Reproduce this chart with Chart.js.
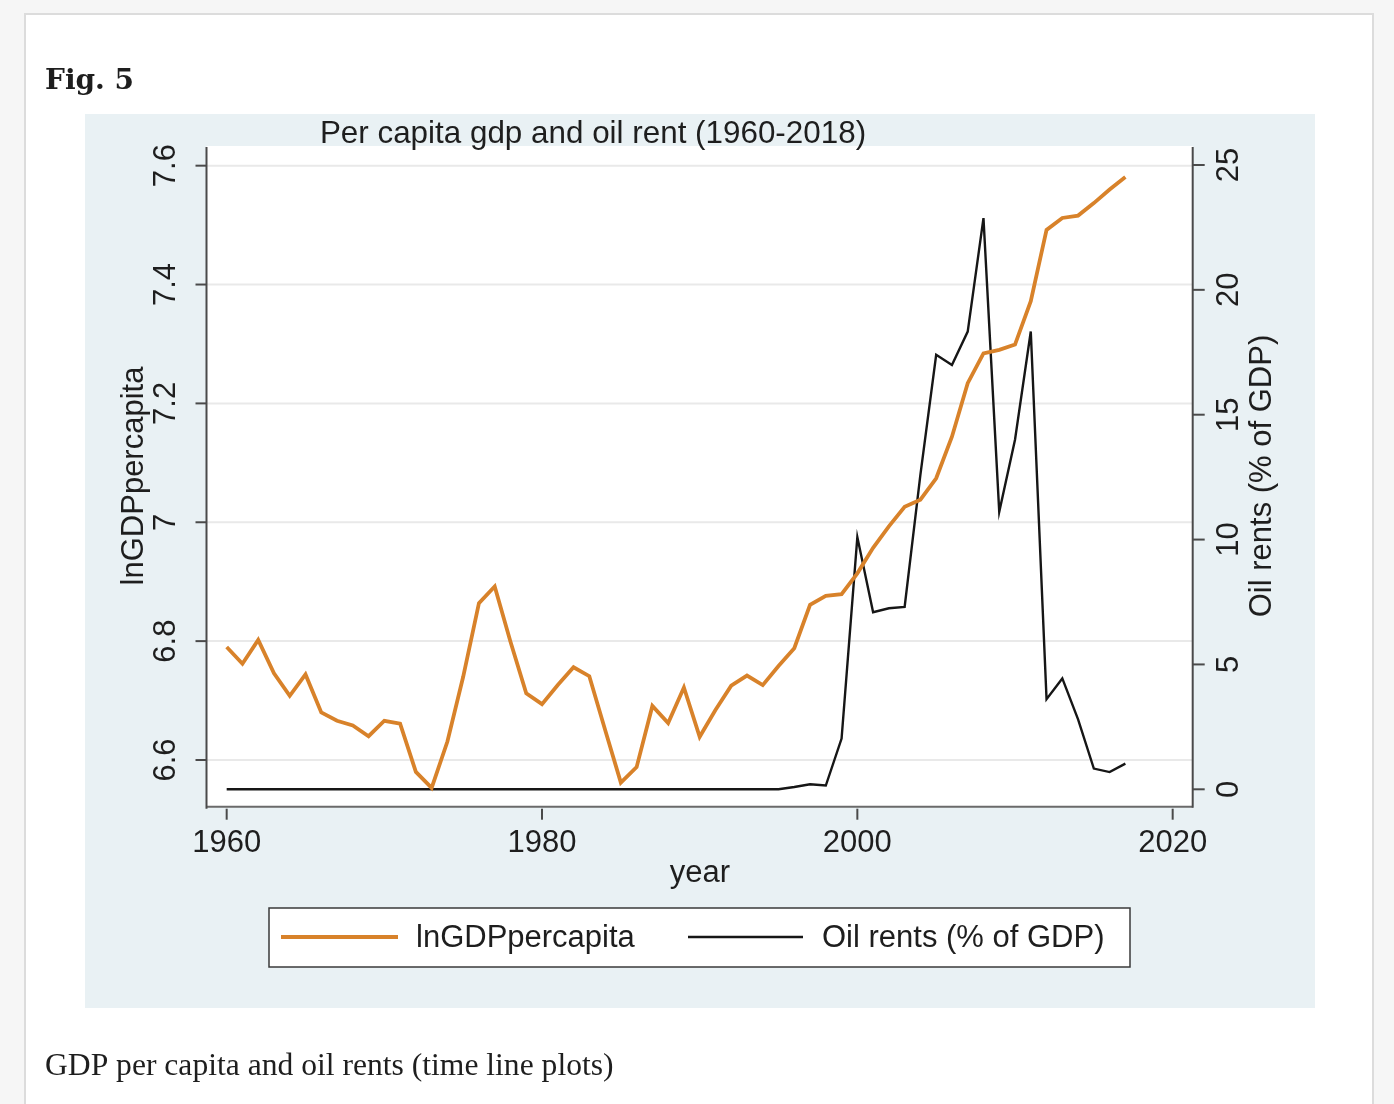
<!DOCTYPE html>
<html><head><meta charset="utf-8">
<script src="https://cdn.jsdelivr.net/npm/chart.js@4.4.0/dist/chart.umd.min.js"></script>
<style>html,body{margin:0;padding:0;background:#f6f6f6;overflow:hidden;} canvas{display:block;}</style>
</head><body>
<canvas id="c" width="1394" height="1104" style="width:1394px;height:1104px"></canvas>
<script>
// ---- data ----
const years = [1960,1961,1962,1963,1964,1965,1966,1967,1968,1969,
  1970,1971,1972,1973,1974,1975,1976,1977,1978,1979,
  1980,1981,1982,1983,1984,1985,1986,1987,1988,1989,
  1990,1991,1992,1993,1994,1995,1996,1997,1998,1999,
  2000,2001,2002,2003,2004,2005,2006,2007,2008,2009,
  2010,2011,2012,2013,2014,2015,2016,2017];
const lnGDPpercapita = [6.790,6.762,6.802,6.746,6.708,6.744,6.680,6.666,6.658,6.640,
  6.666,6.661,6.580,6.553,6.631,6.740,6.864,6.892,6.799,6.712,
  6.694,6.726,6.756,6.741,6.651,6.562,6.588,6.691,6.662,6.722,
  6.639,6.684,6.725,6.742,6.726,6.758,6.788,6.861,6.876,6.879,
  6.914,6.957,6.993,7.026,7.038,7.074,7.144,7.234,7.284,7.290,
  7.299,7.372,7.492,7.512,7.516,7.537,7.560,7.581];
const oilRents = [0,0,0,0,0,0,0,0,0,0,
  0,0,0,0,0,0,0,0,0,0,
  0,0,0,0,0,0,0,0,0,0,
  0,0,0,0,0,0,0.09,0.20,0.15,2.03,
  10.1,7.09,7.25,7.30,12.6,17.4,16.99,18.33,22.87,11.11,
  14.0,18.33,3.61,4.44,2.8,0.83,0.69,1.03];
const seriesNames = ['lnGDPpercapita','Oil rents (% of GDP)'];
const xTicks = [1960,1980,2000,2020];
const leftTicks = [6.6,6.8,7,7.2,7.4,7.6];
const leftTickLabels = ['6.6','6.8','7','7.2','7.4','7.6'];
const rightTicks = [0,5,10,15,20,25];
const rightTickLabels = ['0','5','10','15','20','25'];
const chartTitle = 'Per capita gdp and oil rent (1960-2018)';
const xTitle = 'year';
const leftTitle = 'lnGDPpercapita';
const rightTitle = 'Oil rents (% of GDP)';
const figLabel = 'Fig. 5';
const caption = 'GDP per capita and oil rents (time line plots)';

// ---- styling ----
const ORANGE = '#d8822a';
const BLACK = '#161616';
const TEXT = '#1e1e1e';
const SANS = '"Liberation Sans", Arial, sans-serif';

function rotText(ctx, txt, x, y){
  ctx.save(); ctx.translate(x,y); ctx.rotate(-Math.PI/2);
  ctx.textAlign='center'; ctx.textBaseline='middle'; ctx.fillText(txt,0,0); ctx.restore();
}

const stata = {
  id:'stata',
  beforeDraw(chart){
    const {ctx, chartArea:a} = chart;
    const W = chart.width, H = chart.height;
    ctx.save();
    ctx.fillStyle='#f6f6f6'; ctx.fillRect(0,0,W,H);
    ctx.fillStyle='#ffffff'; ctx.fillRect(25,14,1348,H);
    ctx.strokeStyle='#dcdcdc'; ctx.lineWidth=2; ctx.strokeRect(25,14,1348,H+20);
    ctx.fillStyle=TEXT; ctx.textAlign='left'; ctx.textBaseline='alphabetic';
    ctx.font='bold 28px "DejaVu Serif", serif';
    ctx.fillText(figLabel,45,89);
    ctx.font='31.6px "Liberation Serif", serif';
    ctx.fillText(caption,45,1075);
    // graph region
    ctx.fillStyle='#e9f1f4'; ctx.fillRect(85,114,1230,894);
    ctx.fillStyle='#ffffff'; ctx.fillRect(a.left,a.top,a.right-a.left,a.bottom-a.top);
    const y = chart.scales.y;
    ctx.strokeStyle='#e9e9e9'; ctx.lineWidth=2;
    leftTicks.forEach(v=>{const p=y.getPixelForValue(v); ctx.beginPath(); ctx.moveTo(a.left,p); ctx.lineTo(a.right,p); ctx.stroke();});
    ctx.restore();
  },
  afterDatasetsDraw(chart){
    const {ctx, chartArea:a} = chart;
    const sx = chart.scales.x, sy = chart.scales.y, sy1 = chart.scales.y1;
    ctx.save();
    // axis lines
    ctx.lineWidth=2;
    ctx.strokeStyle='#6a6a6a';
    ctx.beginPath(); ctx.moveTo(a.left,a.bottom); ctx.lineTo(a.right,a.bottom); ctx.stroke();
    ctx.strokeStyle='#4a4a4a';
    ctx.beginPath(); ctx.moveTo(a.left,a.top+1); ctx.lineTo(a.left,a.bottom+2); ctx.stroke();
    ctx.beginPath(); ctx.moveTo(a.right,a.top+1); ctx.lineTo(a.right,a.bottom+1); ctx.stroke();
    // ticks
    ctx.fillStyle=TEXT; ctx.font='31px '+SANS;
    leftTicks.forEach((v,i)=>{const p=sy.getPixelForValue(v);
      ctx.beginPath(); ctx.moveTo(a.left-11,p); ctx.lineTo(a.left,p); ctx.stroke();
      rotText(ctx,leftTickLabels[i],a.left-40,p);});
    rightTicks.forEach((v,i)=>{const p=sy1.getPixelForValue(v);
      ctx.beginPath(); ctx.moveTo(a.right,p); ctx.lineTo(a.right+12,p); ctx.stroke();
      rotText(ctx,rightTickLabels[i],a.right+37,p);});
    ctx.textAlign='center'; ctx.textBaseline='middle';
    xTicks.forEach(v=>{const p=sx.getPixelForValue(v);
      ctx.beginPath(); ctx.moveTo(p,a.bottom+2); ctx.lineTo(p,a.bottom+13); ctx.stroke();
      ctx.fillText(String(v),p,a.bottom+37);});
    // titles
    ctx.font='31.4px '+SANS;
    ctx.fillText(chartTitle,593,134);
    ctx.font='31px '+SANS;
    ctx.fillText(xTitle,700,873);
    rotText(ctx,leftTitle,134,476);
    rotText(ctx,rightTitle,1262,476);
    // legend
    ctx.fillStyle='#ffffff'; ctx.fillRect(269,908,861,59);
    ctx.strokeStyle='#3a3a3a'; ctx.lineWidth=1.5; ctx.strokeRect(269,908,861,59);
    const ds = chart.data.datasets;
    const items = [{x1:281,x2:398,tx:416},{x1:688,x2:803,tx:822}];
    items.forEach((it,i)=>{
      ctx.strokeStyle=ds[i].borderColor; ctx.lineWidth=ds[i].borderWidth;
      ctx.beginPath(); ctx.moveTo(it.x1,937); ctx.lineTo(it.x2,937); ctx.stroke();
      ctx.fillStyle=TEXT; ctx.textAlign='left'; ctx.textBaseline='middle';
      ctx.fillText(ds[i].label,it.tx,938);
    });
    ctx.restore();
  }
};

new Chart(document.getElementById('c'), {
  type:'line',
  data:{
    datasets:[
      {label:seriesNames[0], data:years.map((yr,i)=>({x:yr,y:lnGDPpercapita[i]})), yAxisID:'y',
       borderColor:ORANGE, borderWidth:3.8, pointRadius:0, tension:0, fill:false, borderJoinStyle:'miter'},
      {label:seriesNames[1], data:years.map((yr,i)=>({x:yr,y:oilRents[i]})), yAxisID:'y1',
       borderColor:BLACK, borderWidth:2.4, pointRadius:0, tension:0, fill:false, borderJoinStyle:'miter'}
    ]
  },
  options:{
    responsive:false, animation:false, devicePixelRatio:1,
    layout:{padding:{left:206.5, top:146, right:1394-1192.7, bottom:1104-806.7}},
    plugins:{legend:{display:false}, title:{display:false}, tooltip:{enabled:false}},
    scales:{
      x:{type:'linear', min:1958.72, max:2021.27, display:false},
      y:{type:'linear', position:'left', min:6.5214, max:7.6331, display:false},
      y1:{type:'linear', position:'right', min:-0.697, max:25.76, display:false}
    }
  },
  plugins:[stata]
});
</script>
</body></html>
